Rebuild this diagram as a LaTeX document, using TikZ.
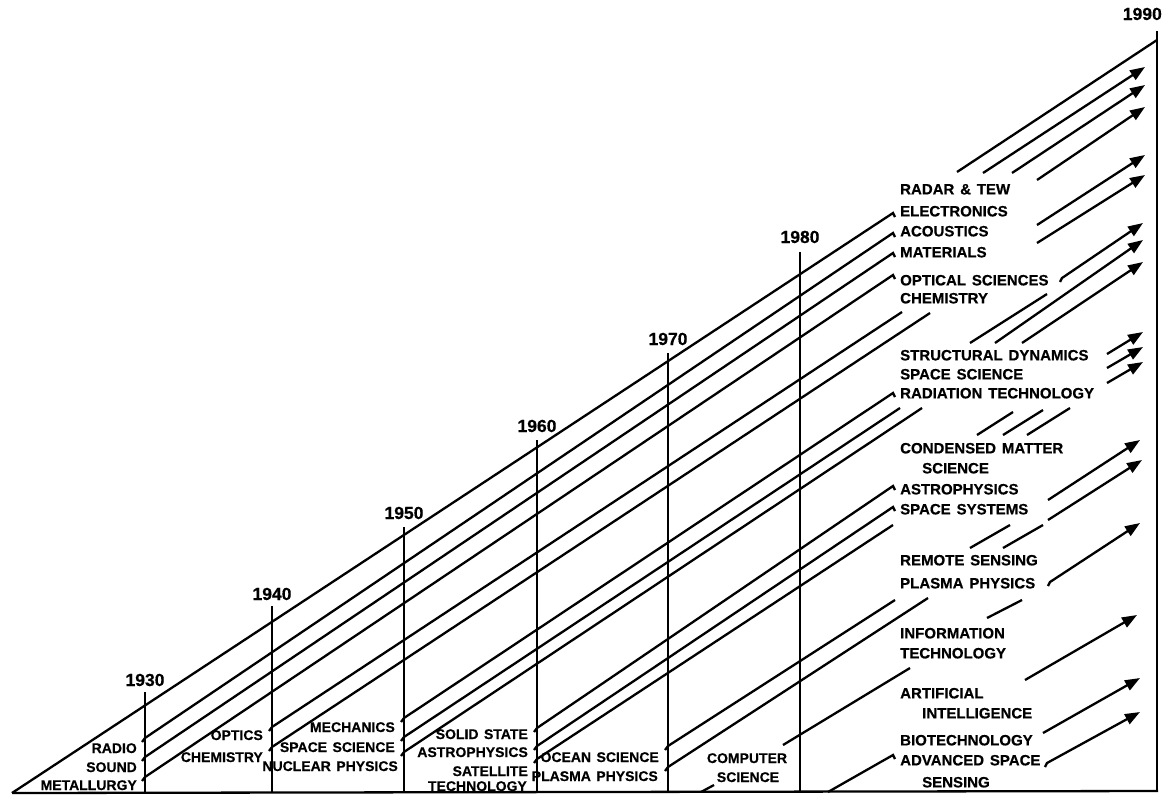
\documentclass[tikz,border=0pt]{standalone}
\usepackage{fontspec}
\setmainfont{Liberation Sans}[BoldFeatures={FakeBold=0.5,WordSpace=1.4}]
\usetikzlibrary{arrows.meta}
\begin{document}
\begin{tikzpicture}[x=1pt,y=-1pt,
  ln/.style={line width=2.3pt},
  ar/.style={line width=2.3pt,-{Triangle[length=15pt,width=11pt]}},
  rl/.style={font=\fontsize{15}{15}\selectfont\bfseries,inner sep=0pt,anchor=base west},
  ll/.style={font=\fontsize{14}{14}\selectfont\bfseries,inner sep=0pt,anchor=base east},
  cl/.style={font=\fontsize{14}{14}\selectfont\bfseries,inner sep=0pt,anchor=base},
  yr/.style={font=\fontsize{17.5}{17.5}\selectfont\bfseries,inner sep=0pt,anchor=base}]
\useasboundingbox (0,0) rectangle (1169,801);
% frame
\draw[ln] (12,793) -- (1158,791);
\draw[ln] (1157,31) -- (1157,792);
\draw[ln] (12,793) -- (893,213) -- (895,217);
\draw[ln] (957,172) -- (1157,40);
% year lines and labels
\node[yr] (y1930) at (145,686) {1930};
\draw[ln] (145,692) -- (145,792);
\node[yr] (y1940) at (272,600) {1940};
\draw[ln] (272,606) -- (272,792);
\node[yr] (y1950) at (404,519) {1950};
\draw[ln] (404,527) -- (404,792);
\node[yr] (y1960) at (537,432) {1960};
\draw[ln] (537,440) -- (537,792);
\node[yr] (y1970) at (668,345) {1970};
\draw[ln] (668,353) -- (668,792);
\node[yr] (y1980) at (800,243) {1980};
\draw[ln] (800,252) -- (800,792);
\node[yr,anchor=base east] (y1990) at (1162,20) {1990};
% left labels
\node[ll] (radio) at (137,753) {RADIO};
\node[ll] (sound) at (137,772) {SOUND};
\node[ll] (metal) at (137,790) {METALLURGY};
\node[ll] (optics) at (263,740) {OPTICS};
\node[ll] (chem) at (263,762) {CHEMISTRY};
\node[ll] (mech) at (395,732) {MECHANICS};
\node[ll] (spsci) at (395,752) {SPACE SCIENCE};
\node[ll] (nucl) at (398,771) {NUCLEAR PHYSICS};
\node[ll] (solid) at (528,739) {SOLID STATE};
\node[ll] (astro) at (528,757) {ASTROPHYSICS};
\node[ll] (sat) at (528,776) {SATELLITE};
\node[ll] (sattech) at (527,791) {TECHNOLOGY};
\node[ll] (ocean) at (659,762) {OCEAN SCIENCE};
\node[ll] (plasma) at (658,781) {PLASMA PHYSICS};
\node[cl] (comp) at (747,763) {COMPUTER};
\node[cl] (compsci) at (748,782) {SCIENCE};
% right labels
\node[rl] (radar) at (900,194.4) {RADAR \& TEW};
\node[rl] (elec) at (900,216.4) {ELECTRONICS};
\node[rl] (acou) at (900,236.4) {ACOUSTICS};
\node[rl] (mat) at (900,257.4) {MATERIALS};
\node[rl] (optsci) at (900,285.4) {OPTICAL SCIENCES};
\node[rl] (rchem) at (900,303.4) {CHEMISTRY};
\node[rl] (struct) at (900,360.4) {STRUCTURAL DYNAMICS};
\node[rl] (rspsci) at (900,379.4) {SPACE SCIENCE};
\node[rl] (rad) at (900,398.4) {RADIATION TECHNOLOGY};
\node[rl] (cond) at (900,453.4) {CONDENSED MATTER};
\node[rl] (condsci) at (922,473.4) {SCIENCE};
\node[rl] (rastro) at (900,494.4) {ASTROPHYSICS};
\node[rl] (spsys) at (900,514.4) {SPACE SYSTEMS};
\node[rl] (remote) at (900,565.4) {REMOTE SENSING};
\node[rl] (rplasma) at (900,588.4) {PLASMA PHYSICS};
\node[rl] (info) at (900,638.4) {INFORMATION};
\node[rl] (infotech) at (900,658.4) {TECHNOLOGY};
\node[rl] (ai) at (900,698.4) {ARTIFICIAL};
\node[rl] (aiint) at (922,718.4) {INTELLIGENCE};
\node[rl] (bio) at (900,745.4) {BIOTECHNOLOGY};
\node[rl] (adv) at (900,765.4) {ADVANCED SPACE};
\node[rl] (advsens) at (922,787.4) {SENSING};
% left lines
\draw[ln] (142,742) -- (145,738) -- (893,233) -- (895,237);
\draw[ln] (142,761) -- (145,757) -- (893,253) -- (895,257);
\draw[ln] (142,781) -- (145,777) -- (893,275) -- (895,279);
\draw[ln] (269,731) -- (272,727) -- (902,312);
\draw[ln] (269,751) -- (272,747) -- (930,313);
\draw[ln] (401,722) -- (404,718) -- (893,393) -- (895,397);
\draw[ln] (401,741) -- (404,737) -- (900,408);
\draw[ln] (401,756) -- (404,752) -- (922,408);
\draw[ln] (534,732) -- (537,728) -- (893,486) -- (895,490);
\draw[ln] (534,750) -- (537,746) -- (893,507) -- (895,511);
\draw[ln] (534,763) -- (537,759) -- (893,525);
\draw[ln] (665,750) -- (668,746) -- (895,600);
\draw[ln] (665,771) -- (668,767) -- (928,598);
\draw[ln] (783,745) -- (910,668);
\draw[ln] (701,792) -- (714,785);
\draw[ln] (828,792) -- (893,755) -- (895,759);
% right segments
\draw[ar] (983,173) -- (1145,67);
\draw[ar] (1012,173) -- (1145,85);
\draw[ar] (1037,180) -- (1145,107);
\draw[ar] (1037,225) -- (1145,155);
\draw[ar] (1037,243) -- (1145,175);
\draw[ar] (1060,282) -- (1062,278) -- (1143,223);
\draw[ar] (995,343) -- (1143,240);
\draw[ar] (1022,343) -- (1143,262);
\draw[ln] (970,343) -- (1047,294);
\draw[ar] (1107,354) -- (1143,332);
\draw[ar] (1107,368) -- (1143,347);
\draw[ar] (1107,383) -- (1143,362);
\draw[ln] (977,435) -- (1013,412);
\draw[ln] (1003,435) -- (1043,410);
\draw[ln] (1027,435) -- (1070,408);
\draw[ar] (1048,500) -- (1140,440);
\draw[ar] (1048,520) -- (1142,460);
\draw[ln] (970,548) -- (1010,525);
\draw[ln] (1003,548) -- (1043,525);
\draw[ar] (1048,586) -- (1050,582) -- (1140,523);
\draw[ln] (987,618) -- (1022,600);
\draw[ar] (1025,680) -- (1137,615);
\draw[ar] (1043,733) -- (1140,678);
\draw[ar] (1045,767) -- (1047,763) -- (1140,712);
\end{tikzpicture}
\end{document}
